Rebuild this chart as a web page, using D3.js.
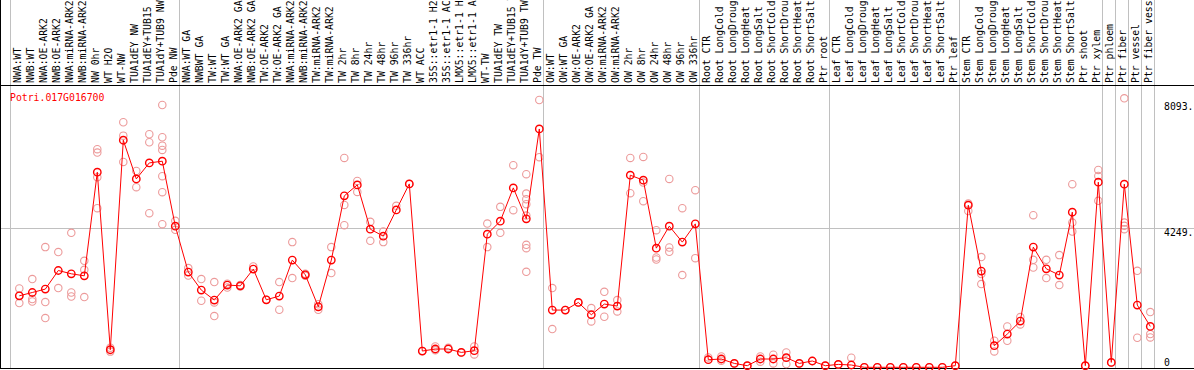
<!DOCTYPE html>
<html>
<head>
<meta charset="utf-8">
<script src="https://cdn.jsdelivr.net/npm/d3@7"></script>
<style>
  body { margin: 0; background: #fff; }
  svg { display: block; font-family: "DejaVu Sans Mono", monospace; font-size: 9.8px; }
</style>
</head>
<body>
<script>
var geneId = "Potri.017G016700";

var labels = [
  "NWA:WT", "NWB:WT", "NWA:OE-ARK2", "NWB:OE-ARK2", "NWA:miRNA-ARK2", "NWB:miRNA-ARK2",
  "NW 0hr", "WT H2O", "WT-NW", "TUA1dEY NW", "TUA1dEY+TUB15 NW", "TUA1dY+TUB9 NW", "Pde NW",
  "NWA:WT GA", "NWBWT GA", "TW:WT", "TW:WT GA", "NWA:OE-ARK2 GA", "NWB:OE-ARK2 GA",
  "TW:OE-ARK2", "TW:OE-ARK2 GA", "NWA:miRNA-ARK2 GA", "NWB:miRNA-ARK2 GA", "TW:miRNA-ARK2",
  "TW:miRNA-ARK2 GA", "TW 2hr", "TW 8hr", "TW 24hr", "TW 48hr", "TW 96hr", "TW 336hr",
  "WT ACC", "35S::etr1-1 H2O", "35S::etr1-1 ACC", "LMX5::etr1-1 H2O", "LMX5::etr1-1 ACC",
  "WT-TW", "TUA1dEY TW", "TUA1dEY+TUB15 TW", "TUA1dY+TUB9 TW", "Pde TW",
  "OW:WT", "OW:WT GA", "OW:OE-ARK2", "OW:OE-ARK2 GA", "OW:miRNA-ARK2", "OW:miRNA-ARK2 GA",
  "OW 2hr", "OW 8hr", "OW 24hr", "OW 48hr", "OW 96hr", "OW 336hr",
  "Root CTR", "Root LongCold", "Root LongDrought", "Root LongHeat", "Root LongSalt",
  "Root ShortCold", "Root ShortDrought", "Root ShortHeat", "Root ShortSalt", "Ptr root",
  "Leaf CTR", "Leaf LongCold", "Leaf LongDrought", "Leaf LongHeat", "Leaf LongSalt",
  "Leaf ShortCold", "Leaf ShortDrought", "Leaf ShortHeat", "Leaf ShortSalt", "Ptr leaf",
  "Stem CTR", "Stem LongCold", "Stem LongDrought", "Stem LongHeat", "Stem LongSalt",
  "Stem ShortCold", "Stem ShortDrought", "Stem ShortHeat", "Stem ShortSalt", "Ptr shoot", "Ptr xylem",
  "Ptr phloem", "Ptr fiber", "Ptr vessel", "Ptr fiber vessel"
];

// index of the first sample of each block (grey separators)
var groupStarts = [0, 13, 41, 53, 63, 73, 84, 85, 86, 87];

var means = [
  2189, 2290, 2394, 2963, 2862, 2801, 5972, 538, 6951, 5767, 6257, 6309, 4321,
  2914, 2364, 2058, 2517, 2495, 3006, 2067, 2180, 3281, 2832, 1853, 3281, 5248, 5584,
  4229, 4015, 4819, 5614, 498, 560, 560, 456, 508, 4076, 4474, 5492, 4544, 7296,
  1752, 1752, 1985, 1609, 1936, 1875, 5880, 5728, 3648, 4321, 3832, 4391,
  232, 254, 119, 49, 254, 254, 294, 119, 193, 49,
  89, 70, 0, 0, 0, 0, 0, 0, 0, 49,
  4963, 2945, 661, 1018, 1416, 3679, 3015, 2823, 4749, 49, 5667,
  150, 5605, 1905, 1251
];

var replicates = [
  [2413, 1966, 2189], [2700, 2089, 2015], [3679, 1997, 1508], [3526, 2425],
  [4116, 2290, 2168], [3260, 2985, 2150], [6676, 6572, 5819, 4871], [600, 480],
  [7501, 7092, 6287], [6012, 5514], [7134, 6890, 4718],
  [8030, 7043, 6786, 6654, 5850, 5361, 4382], [4483, 4208],
  [3037, 2810], [2700, 2037], [2608, 1985, 1569], [2443, 2560], [2470, 2520],
  [3086], [2067], [2608, 1761], [3832, 2731], [2800, 2860], [1761, 1930],
  [3679, 2884], [6410, 4972, 4352], [5706, 5370], [4452, 3871], [4156, 3832],
  [4942], [5614], [498], [640, 520], [600], [456], [640, 394], [4400, 3679],
  [4911, 4116], [6186, 4810], [5911, 5318, 5147, 4994, 4645, 3749, 3648, 2923],
  [8183, 6431],
  [2425, 1171], [1752], [1985], [1813, 1404], [2312, 1547], [2058, 1709],
  [6410, 5330], [6440, 5654, 5085], [4199, 3361, 3300], [5767, 3667, 3535],
  [4871, 2823], [5422, 3342],
  [303], [333, 200], [119], [49], [333, 171], [385, 119], [456, 101], [119], [193], [49],
  [89], [294], [0], [0], [0], [0], [0], [0], [0], [49],
  [5012, 4784], [3373, 2853, 2547], [813, 486], [1251, 813], [1538, 1312],
  [4657, 3290, 3055], [3290, 2731], [3434, 2517], [5605, 4431, 4156], [49],
  [6043, 5859, 5095],
  [150], [8235, 4431, 4330, 4229], [2954, 905], [1691, 1018, 914]
];

var yTickValues = [8093, 4249, 0];
var yTickLabels = ["8093.", "4249.", "0"];
var yMax = 8498;

var width = 1194, height = 370;

var svg = d3.select("body").append("svg")
    .attr("width", width)
    .attr("height", height);

var x = d3.scaleBand()
    .domain(d3.range(labels.length))
    .range([10.5, 10.5 + labels.length * 13]);

var y = d3.scaleLinear()
    .domain([0, yMax])
    .range([367.3, 89.7]);

var px = function(i) { return x(i) + 8.8; };

// separators
var sepX = groupStarts.map(function(i) { return x(i); }).concat([x.range()[1]]);
svg.selectAll("line.sep")
    .data(sepX)
  .enter().append("line")
    .attr("class", "sep")
    .attr("x1", function(d) { return d; })
    .attr("x2", function(d) { return d; })
    .attr("y1", 0)
    .attr("y2", 368)
    .attr("stroke", "#c0c0c0")
    .attr("shape-rendering", "crispEdges");

// mid grid line
svg.append("line")
    .attr("x1", 0).attr("x2", width)
    .attr("y1", Math.round(y(4249)) - 0.5)
    .attr("y2", Math.round(y(4249)) - 0.5)
    .attr("stroke", "#c0c0c0")
    .attr("shape-rendering", "crispEdges");

// frame
svg.append("line").attr("x1", 0).attr("x2", width).attr("y1", 85.5).attr("y2", 85.5)
    .attr("stroke", "#000").attr("shape-rendering", "crispEdges");
svg.append("line").attr("x1", 0).attr("x2", width).attr("y1", 368.5).attr("y2", 368.5)
    .attr("stroke", "#000").attr("shape-rendering", "crispEdges");
svg.append("line").attr("x1", 0.5).attr("x2", 0.5).attr("y1", 0).attr("y2", 369)
    .attr("stroke", "#000").attr("shape-rendering", "crispEdges");

// sample labels
svg.selectAll("text.lab")
    .data(labels)
  .enter().append("text")
    .attr("class", "lab")
    .attr("transform", function(d, i) { return "translate(" + (px(i) + 2) + ",83) rotate(-90)"; })
    .attr("fill", "#000")
    .text(function(d) { return d; });

// y axis on the right
var yAxis = d3.axisRight(y)
    .tickValues(yTickValues)
    .tickSize(0)
    .tickPadding(0)
    .tickFormat(function(d, i) { return yTickLabels[i]; });

var ax = svg.append("g")
    .attr("transform", "translate(1164,0)")
    .call(yAxis);
ax.select(".domain").remove();
ax.selectAll("text")
    .attr("font-family", "DejaVu Sans Mono, monospace")
    .attr("font-size", "9.8px")
    .attr("fill", "#000")
    .attr("dy", function(d) { return d === 0 ? "-0.2em" : "0.72em"; });

// title
svg.append("text")
    .attr("x", 10)
    .attr("y", 101)
    .attr("fill", "#ff0000")
    .text(geneId);

// replicate circles
var reps = [];
replicates.forEach(function(r, i) {
  r.forEach(function(v) { reps.push({i: i, v: v}); });
});
svg.selectAll("circle.rep")
    .data(reps)
  .enter().append("circle")
    .attr("class", "rep")
    .attr("cx", function(d) { return px(d.i); })
    .attr("cy", function(d) { return y(d.v); })
    .attr("r", 3.7)
    .attr("fill", "none")
    .attr("stroke", "#ec9a9a")
    .attr("stroke-width", 1.1);

// mean line
var line = d3.line()
    .x(function(d, i) { return px(i); })
    .y(function(d) { return y(d); });

svg.append("path")
    .datum(means)
    .attr("d", line)
    .attr("fill", "none")
    .attr("stroke", "#ff0000")
    .attr("stroke-width", 1);

svg.selectAll("circle.mean")
    .data(means)
  .enter().append("circle")
    .attr("class", "mean")
    .attr("cx", function(d, i) { return px(i); })
    .attr("cy", function(d) { return y(d); })
    .attr("r", 3.7)
    .attr("fill", "none")
    .attr("stroke", "#ff0000")
    .attr("stroke-width", 1.4);
</script>
</body>
</html>
